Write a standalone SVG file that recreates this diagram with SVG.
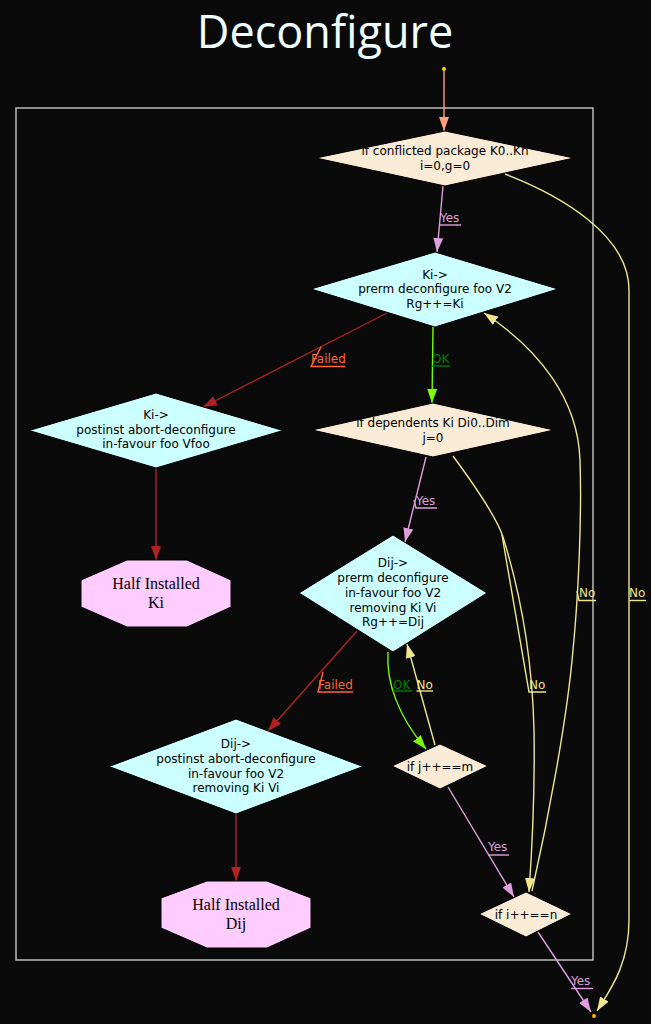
<svg xmlns="http://www.w3.org/2000/svg" width="651" height="1024" viewBox="0 0 651 1024">
<defs>
<style>
.t{font-family:"DejaVu Sans","Liberation Sans",sans-serif;font-size:12px;fill:#000;text-anchor:middle}
.s{font-family:"Liberation Serif","DejaVu Serif",serif;font-size:16px;fill:#000;text-anchor:middle}
.l{font-family:"DejaVu Sans","Liberation Sans",sans-serif;font-size:12px}
.e{fill:none;stroke-width:1.4}
.d{fill:none;stroke-width:1.4}
.cy{fill:#ccffff;stroke:#000}
.aw{fill:#faebd7;stroke:#000}
.pk{fill:#ffccff;stroke:#000}
</style>
<marker id="m-salmon" viewBox="0 0 14 10" refX="14" refY="5" markerWidth="14" markerHeight="10" markerUnits="userSpaceOnUse" orient="auto"><path d="M0,0 L14,5 L0,10 z" fill="#ffa07a"/></marker>
<marker id="m-plum" viewBox="0 0 14 10" refX="14" refY="5" markerWidth="14" markerHeight="10" markerUnits="userSpaceOnUse" orient="auto"><path d="M0,0 L14,5 L0,10 z" fill="#dda0dd"/></marker>
<marker id="m-green" viewBox="0 0 14 10" refX="14" refY="5" markerWidth="14" markerHeight="10" markerUnits="userSpaceOnUse" orient="auto"><path d="M0,0 L14,5 L0,10 z" fill="#7cfc00"/></marker>
<marker id="m-red" viewBox="0 0 14 10" refX="14" refY="5" markerWidth="14" markerHeight="10" markerUnits="userSpaceOnUse" orient="auto"><path d="M0,0 L14,5 L0,10 z" fill="#b22222"/></marker>
<marker id="m-khaki" viewBox="0 0 14 10" refX="14" refY="5" markerWidth="14" markerHeight="10" markerUnits="userSpaceOnUse" orient="auto"><path d="M0,0 L14,5 L0,10 z" fill="#f0e68c"/></marker>
</defs>
<rect x="0" y="0" width="651" height="1024" fill="#0a0a0a"/>
<text x="325" y="48" font-family="'Open Sans','Noto Sans','DejaVu Sans',sans-serif" font-size="45" fill="#f0ffff" text-anchor="middle">Deconfigure</text>
<rect id="cluster" x="16" y="108" width="577" height="852" fill="none" stroke="#c8c8c8" stroke-width="1.4"/>

<g id="connectors">
<path class="e" stroke="#ffa07a" marker-end="url(#m-salmon)" d="M444,71 L444,131"/>
<path class="e" stroke="#dda0dd" marker-end="url(#m-plum)" d="M443,186 L437,252"/>
<path class="e" stroke="#b22222" marker-end="url(#m-red)" d="M387,313 L203,407"/>
<path class="e" stroke="#7cfc00" marker-end="url(#m-green)" d="M433,327 L432,403"/>
<path class="e" stroke="#b22222" marker-end="url(#m-red)" d="M156,468 L156,560"/>
<path class="e" stroke="#dda0dd" marker-end="url(#m-plum)" d="M426,457 L405,542"/>
<path class="e" stroke="#b22222" marker-end="url(#m-red)" d="M357,631 L268,731"/>
<path class="e" stroke="#b22222" marker-end="url(#m-red)" d="M236,814 L236,881"/>
<path class="e" stroke="#7cfc00" marker-end="url(#m-green)" d="M388,652 C386,682 398,716 426,749"/>
<path class="e" stroke="#f0e68c" marker-end="url(#m-khaki)" d="M435,745 L407,644"/>
<path class="e" stroke="#dda0dd" marker-end="url(#m-plum)" d="M448,787 L514,897"/>
<path class="e" stroke="#f0e68c" marker-end="url(#m-khaki)" d="M453,456 C478,490 497,518 503,537 C518,585 532,650 534,730 C535,790 532,850 529,892"/>
<path class="e" stroke="#f0e68c" marker-end="url(#m-khaki)" d="M532,891 C548,820 567,720 573,650 C578,600 582,520 580,460 C578,400 540,350 484,313"/>
<path class="e" stroke="#f0e68c" marker-end="url(#m-khaki)" d="M505,174 C560,195 629,235 629,290 L629,920 C629,965 610,990 597,1011"/>
<path class="e" stroke="#dda0dd" marker-end="url(#m-plum)" d="M538,932 L591,1012"/>

<g id="labels">
<text class="l" x="440" y="221.5" fill="#dda0dd">Yes</text>
<path class="d" stroke="#dda0dd" d="M440,225 L461,225"/>
<text class="l" x="311" y="362.5" fill="#ff6633">Failed</text>
<path class="d" stroke="#ff6633" d="M321,347 L311,366.5 L345,366.5"/>
<text class="l" x="432" y="362.5" fill="#008000">OK</text>
<path class="d" stroke="#008000" d="M432,366 L450,366"/>
<text class="l" x="416" y="504.5" fill="#dda0dd">Yes</text>
<path class="d" stroke="#dda0dd" d="M414,500 L416,508 L437,508"/>
<text class="l" x="318" y="688.5" fill="#ff6633">Failed</text>
<path class="d" stroke="#ff6633" d="M323,672 L318,692 L353,692"/>
<text class="l" x="393" y="688.5" fill="#008000">OK</text>
<path class="d" stroke="#008000" d="M393,691 L412,691"/>
<text class="l" x="416.5" y="688.5" fill="#f0e68c">No</text>
<path class="d" stroke="#f0e68c" d="M416.5,691 L433,691"/>
<text class="l" x="529" y="688.5" fill="#f0e68c">No</text>
<path class="d" stroke="#f0e68c" d="M502,535 L529,692 L546,692"/>
<text class="l" x="579" y="597" fill="#f0e68c">No</text>
<path class="d" stroke="#f0e68c" d="M577,591 L579,600.5 L596,600.5"/>
<text class="l" x="629" y="597" fill="#f0e68c">No</text>
<path class="d" stroke="#f0e68c" d="M629,600.5 L646,600.5"/>
<text class="l" x="488" y="851" fill="#dda0dd">Yes</text>
<path class="d" stroke="#dda0dd" d="M488,855 L509,855"/>
<text class="l" x="571" y="985" fill="#dda0dd">Yes</text>
<path class="d" stroke="#dda0dd" d="M571,988.5 L593,988.5"/>
</g>
</g>

<g id="start"><circle cx="444" cy="69" r="2" fill="#ffd700"/></g>
<g id="end"><circle cx="594" cy="1016" r="2" fill="#ffb000"/></g>

<g id="n1">
<polygon class="aw" points="445,131 574,158 445,186 316,158"/>
<text class="t" x="445" y="155">if conflicted package K0..Kn</text>
<text class="t" x="445" y="169.5">i=0,g=0</text>
</g>
<g id="n2">
<polygon class="cy" points="435,252 558,289 435,327 311,289"/>
<text class="t" x="435" y="278.5">Ki-&gt;</text>
<text class="t" x="435" y="293">prerm deconfigure foo V2</text>
<text class="t" x="435" y="307.5">Rg++=Ki</text>
</g>
<g id="n3">
<polygon class="aw" points="433,403 554,430 433,457 312,430"/>
<text class="t" x="433" y="427">if dependents Ki Di0..Dim</text>
<text class="t" x="433" y="441.5">j=0</text>
</g>
<g id="n4">
<polygon class="cy" points="156,393 283,430.5 156,468 29,430.5"/>
<text class="t" x="156" y="418.5">Ki-&gt;</text>
<text class="t" x="156" y="434">postinst abort-deconfigure</text>
<text class="t" x="156" y="448">in-favour foo Vfoo</text>
</g>
<g id="n5">
<polygon class="pk" points="127,560 187,560 231,580 231,607 187,627 127,627 81,607 81,580"/>
<text class="s" x="156" y="588.5">Half Installed</text>
<text class="s" x="156" y="607.5">Ki</text>
</g>
<g id="n6">
<polygon class="cy" points="393,535 487,593 393,652 299,593"/>
<text class="t" x="393" y="567">Dij-&gt;</text>
<text class="t" x="393" y="582">prerm deconfigure</text>
<text class="t" x="393" y="597">in-favour foo V2</text>
<text class="t" x="393" y="611.5">removing Ki Vi</text>
<text class="t" x="393" y="626">Rg++=Dij</text>
</g>
<g id="n7">
<polygon class="cy" points="236,719 363,766.5 236,814 109,766.5"/>
<text class="t" x="236" y="748">Dij-&gt;</text>
<text class="t" x="236" y="763">postinst abort-deconfigure</text>
<text class="t" x="236" y="777.5">in-favour foo V2</text>
<text class="t" x="236" y="792">removing Ki Vi</text>
</g>
<g id="n8">
<polygon class="pk" points="207,881 267,881 311,898 311,928 267,948 207,948 161,928 161,898"/>
<text class="s" x="236" y="909.5">Half Installed</text>
<text class="s" x="236" y="928.5">Dij</text>
</g>
<g id="n9">
<polygon class="aw" points="440,744 488,766 440,789 392,766"/>
<text class="t" x="440" y="770.5">if j++==m</text>
</g>
<g id="n10">
<polygon class="aw" points="526,892 572,914 526,937 479,914"/>
<text class="t" x="526" y="918.5">if i++==n</text>
</g>
</svg>
